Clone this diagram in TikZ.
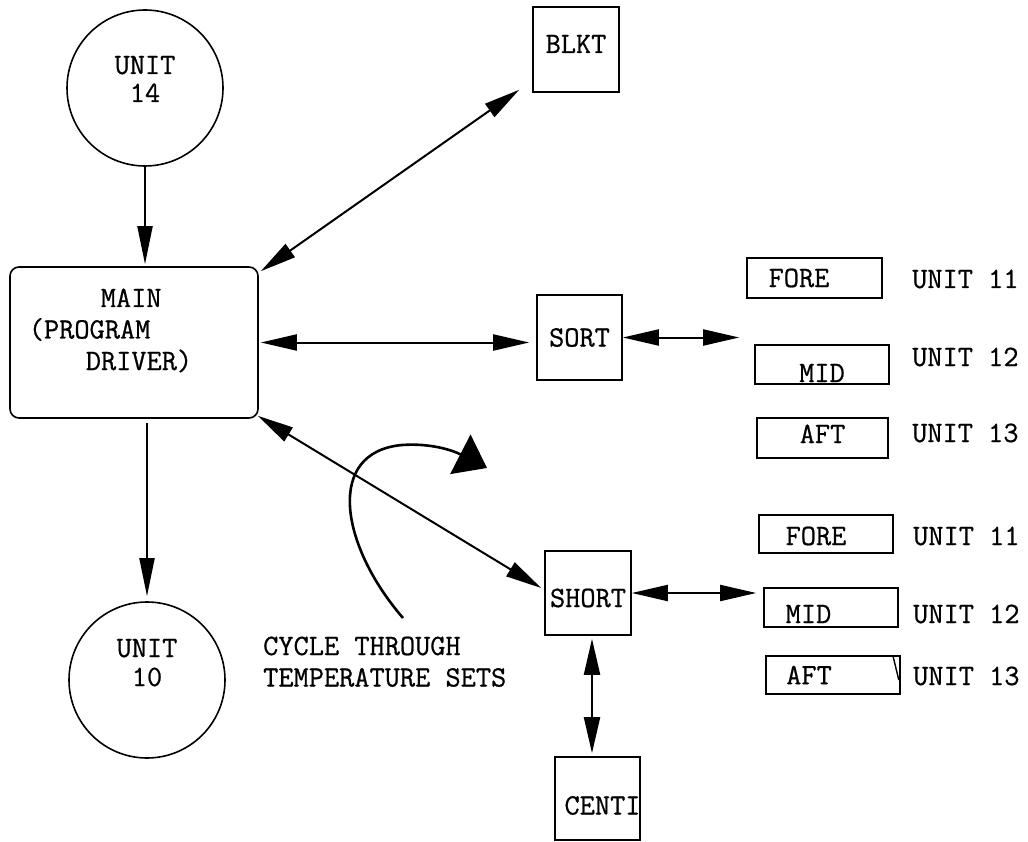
\documentclass[tikz,border=0pt]{standalone}
\usepackage{fontspec}
\newfontfamily\tw{Latin Modern Mono}[FakeBold=0.7]
\usetikzlibrary{arrows.meta}
\begin{document}
\begin{tikzpicture}[x=1pt,y=-1pt,
  every node/.style={font=\tw\fontsize{29.5}{31.5}\selectfont, inner sep=0pt},
  box/.style={draw, line width=1.6pt},
  circ/.style={draw, circle, line width=1.6pt, minimum size=156pt},
  conn/.style={line width=2pt, {Triangle[length=36pt,width=16pt]}-{Triangle[length=36pt,width=16pt]}},
  one/.style={line width=2pt, -{Triangle[length=38pt,width=15pt]}},
  unitlbl/.style={anchor=base west}]
\fill[white] (0,0) rectangle (1028,842);
\useasboundingbox (0,0) rectangle (1028,842);

% circles
\node[circ, text height=17pt, text depth=45pt] (u14) at (145,88)
  {\fontsize{29.5}{28}\selectfont\begin{tabular}[t]{@{}c@{}}UNIT\\14\end{tabular}};
\node[circ, text height=17pt, text depth=63pt] (u10) at (147,680)
  {\fontsize{29.5}{29}\selectfont\begin{tabular}[t]{@{}c@{}}UNIT\\10\end{tabular}};

% main box
\node[box, rounded corners=9pt, minimum width=248pt, minimum height=151pt,
      text height=18pt, text depth=89pt] (main) at (134,342.5)
  {\begin{tabular}[t]{@{}l@{}}\hspace*{72pt}MAIN\\(PROGRAM\\\hspace*{57pt}DRIVER)\hspace*{47pt}\end{tabular}};

% program boxes
\node[box, minimum width=86pt, minimum height=85pt, text height=18pt, text depth=11pt] (blkt) at (576,49.5) {BLKT};
\node[box, minimum width=85pt, minimum height=85pt] (sort) at (579.5,337.5) {SORT};
\node[box, minimum width=86pt, minimum height=84pt, text height=28pt, text depth=0pt] (short) at (588,593) {SHORT};
\node[box, minimum width=85pt, minimum height=83pt, text height=32pt, text depth=0pt] (centi) at (597.5,798.5) {\hspace*{5pt}CENTI\hspace*{-5pt}};

% file boxes (upper group)
\node[box, minimum width=135pt, minimum height=40pt] (fore1) at (814.5,278) {FORE\hspace*{31pt}};
\node[box, minimum width=134pt, minimum height=39pt, text height=35pt, text depth=0pt] (mid1) at (822,364.5) {MID};
\node[box, minimum width=131pt, minimum height=40pt, text height=18pt, text depth=8pt] (aft1) at (822.5,438) {AFT};
\node[unitlbl] (l11a) at (912,288) {UNIT 11};
\node[unitlbl] (l12a) at (912,366) {UNIT 12};
\node[unitlbl] (l13a) at (912,442) {UNIT 13};

% file boxes (lower group)
\node[box, minimum width=134pt, minimum height=38pt, text height=22pt, text depth=0pt] (fore2) at (826,534) {FORE\hspace*{20pt}};
\node[box, minimum width=134pt, minimum height=39pt, text height=31pt, text depth=0pt] (mid2) at (831,607.5) {MID\hspace*{45pt}};
\node[box, minimum width=134pt, minimum height=38pt] (aft2) at (833,675) {AFT\hspace*{48pt}};
\draw[line width=1.4pt] ([xshift=-8pt]aft2.north east) -- ([xshift=-2pt,yshift=-5pt]aft2.east);
\node[unitlbl] (l11b) at (913,545) {UNIT 11};
\node[unitlbl] (l12b) at (913,623) {UNIT 12};
\node[unitlbl] (l13b) at (913,685) {UNIT 13};

% caption
\node[anchor=base west] (cyc) at (263,655)
  {\begin{tabular}[t]{@{}l@{}}CYCLE THROUGH\\TEMPERATURE SETS\end{tabular}};

% connectors
\draw[one, shorten >=2pt] (u14.south) -- (u14.south |- main.north);
\draw[one, shorten <=4pt, shorten >=5pt] (main.south -| u10.north) -- (u10.north);
\draw[conn] ([xshift=2pt,yshift=-5pt]main.north east) -- ([xshift=-13pt,yshift=3pt]blkt.south west);
\draw[conn] ([xshift=2pt]main.east) -- ([xshift=-7pt]main.east -| sort.west);
\draw[conn] (sort.east) -- ([xshift=-15pt]sort.east -| mid1.west);
\draw[conn] ([xshift=-1pt,yshift=3pt]main.south east) -- ([xshift=-3pt,yshift=5pt]short.west);
\draw[conn] (short.east) -- ([xshift=-7pt]short.east -| mid2.west);
\draw[conn] ([xshift=4pt,yshift=-3pt]short.south) -- ([xshift=-5.5pt,yshift=3pt]centi.north);

% cycle arrow
\coordinate (cs) at (403,618);
\coordinate (ce) at (487,468);
\draw[line width=2.6pt, -{Triangle[length=30pt,width=44pt]}]
  (cs) .. controls (340,545) and (325,452) .. (402,445)
       .. controls (430,443) and (452,450) .. (ce);
\end{tikzpicture}
\end{document}
